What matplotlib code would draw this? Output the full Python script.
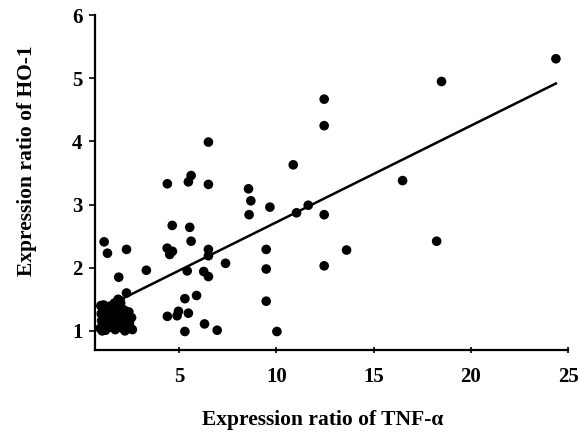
import numpy as np
import matplotlib.pyplot as plt

# TNF-alpha vs HO-1 expression ratios
tnf = [24.37, 18.49, 18.24, 16.49, 13.61, 12.46, 12.46, 12.46, 12.46, 11.64,
       11.04, 10.87, 10.03, 9.67, 9.48, 9.48, 9.48, 8.69, 8.57, 8.60,
       7.39, 6.96, 6.51, 6.51, 6.51, 6.51, 6.27, 6.51, 6.31, 5.90,
       5.62, 5.48, 5.55, 5.62, 5.42, 5.30, 5.48, 5.30, 4.97, 4.90,
       4.65, 4.40, 4.39, 4.66, 4.52, 4.40, 3.32, 2.30, 2.30, 1.90,
       1.15, 1.32,
       # dense cluster near the origin
       0.95, 1.02, 1.00, 1.07, 1.12, 1.22, 1.27, 1.33, 1.38, 1.42,
       1.47, 1.52, 1.58, 1.62, 1.68, 1.72, 1.77, 1.83, 1.88, 1.93,
       1.97, 2.03, 2.07, 2.12, 2.18, 2.22, 2.32, 2.37, 2.42, 2.52,
       2.56, 1.15, 1.70, 2.60, 1.05, 2.00, 1.87, 1.35, 0.98, 2.45]
ho1 = [5.31, 4.95, 2.42, 3.38, 2.28, 4.67, 4.25, 2.84, 2.03, 2.99,
       2.87, 3.63, 0.99, 2.96, 2.29, 1.98, 1.47, 3.06, 3.25, 2.84,
       2.07, 1.01, 3.99, 3.32, 2.29, 2.19, 1.94, 1.86, 1.11, 1.56,
       3.46, 3.36, 2.64, 2.42, 1.95, 1.51, 1.28, 0.99, 1.31, 1.24,
       2.67, 3.33, 2.31, 2.26, 2.21, 1.23, 1.96, 2.29, 1.60, 1.85,
       2.41, 2.23,
       1.04, 1.16, 1.27, 1.36, 1.41, 1.01, 1.12, 1.21, 1.31, 1.39,
       1.06, 1.17, 1.24, 1.34, 1.44, 1.02, 1.09, 1.22, 1.29, 1.38,
       1.48, 1.05, 1.14, 1.26, 1.33, 1.00, 1.11, 1.19, 1.30, 1.04,
       1.21, 1.30, 1.18, 1.02, 1.00, 1.44, 1.50, 1.08, 1.40, 1.13]

# fitted regression line endpoints
fit_x = [1.0, 24.37]
fit_slope = 0.153
fit_icpt = 1.19

plt.rcParams['font.family'] = ['Liberation Serif', 'DejaVu Serif']

fig = plt.figure(figsize=(5.78, 4.34), dpi=100)
ax = fig.add_axes([0.164, 0.194, 0.819, 0.771])

ax.scatter(tnf, ho1, s=48, color='black', edgecolors='none', zorder=3)
fx = np.array(fit_x)
ax.plot(fx, fit_icpt + fit_slope * fx, color='black', linewidth=1.8, zorder=2)

ax.set_xlim(0.67, 25)
ax.set_ylim(0.7, 6)
ax.set_xticks([5, 10, 15, 20, 25])
ax.set_yticks([1, 2, 3, 4, 5, 6])

for s in ['top', 'right']:
    ax.spines[s].set_visible(False)
for s in ['left', 'bottom']:
    ax.spines[s].set_linewidth(1.6)

ax.tick_params(axis='x', direction='inout', length=5, width=1.2, pad=10, labelsize=15)
ax.tick_params(axis='y', direction='out', length=4, width=1.2, pad=5, labelsize=15)
for lab in ax.get_xticklabels() + ax.get_yticklabels():
    lab.set_fontweight('bold')

ax.set_xlabel('Expression ratio of TNF-\u03b1', fontsize=15.5, fontweight='bold')
ax.set_ylabel('Expression ratio of HO-1', fontsize=15.5, fontweight='bold')
ax.xaxis.set_label_coords(0.482, -0.18)
ax.yaxis.set_label_coords(-0.122, 0.564)

plt.savefig('out.png', dpi=100)
